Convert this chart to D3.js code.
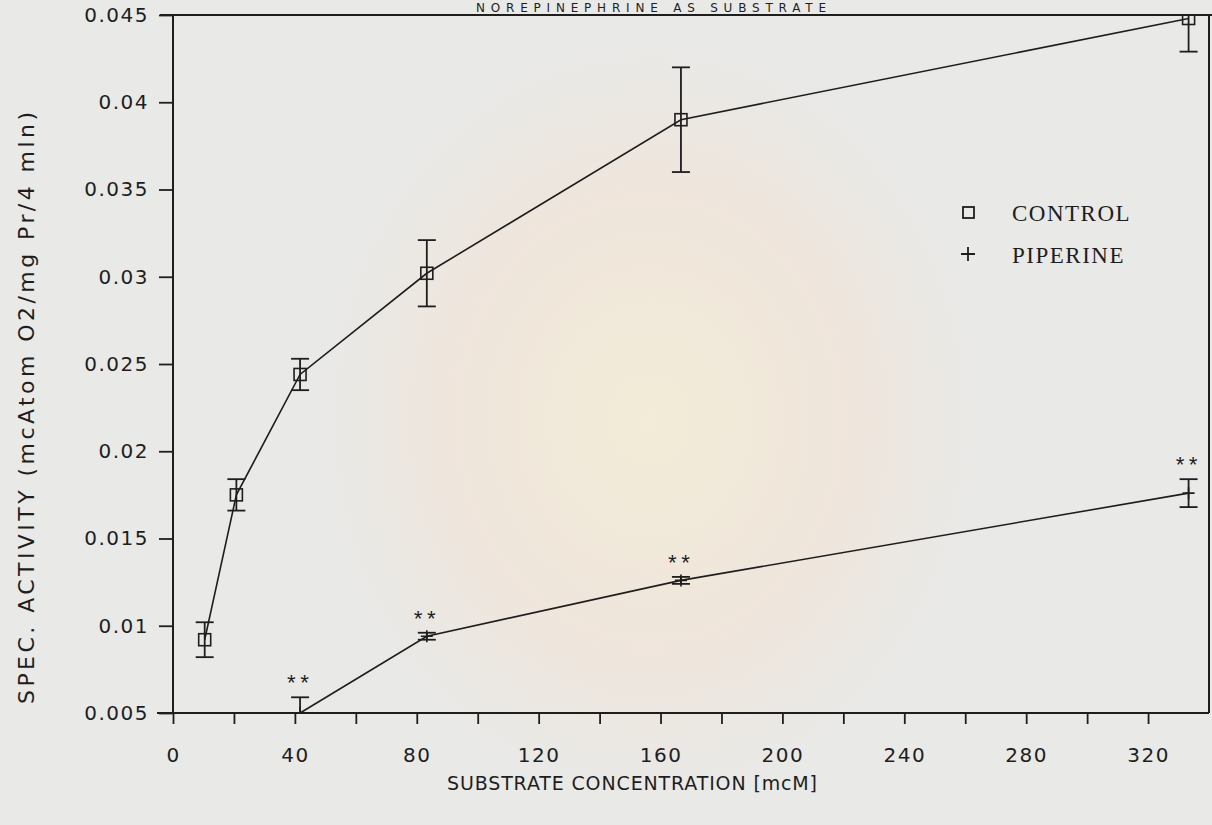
<!DOCTYPE html>
<html>
<head>
<meta charset="utf-8">
<script src="https://cdn.jsdelivr.net/npm/d3@7"></script>
<style>
  body { margin: 0; background: #e9e9e7; }
  svg { display: block; }
</style>
</head>
<body>
<script>
// substrate concentrations (mcM)
const conc = [10.4, 20.8, 41.7, 83.3, 166.7, 333.3];
const controlVals = [0.0092, 0.0175, 0.0244, 0.0302, 0.0390, 0.0448];
const controlErr = [0.0010, 0.0009, 0.0009, 0.0019, 0.0030, 0.0019];
const piperineConc = [41.7, 83.3, 166.7, 333.3];
const piperineVals = [0.0050, 0.0094, 0.0126, 0.0176];
const piperineErr = [0.0009, 0.0002, 0.0002, 0.0008];
const xTicks = d3.range(0, 340, 20);
const xTickLabels = ["0", "40", "80", "120", "160", "200", "240", "280", "320"];
const yTicks = [0.005, 0.01, 0.015, 0.02, 0.025, 0.03, 0.035, 0.04, 0.045];
const yTickLabels = ["0.005", "0.01", "0.015", "0.02", "0.025", "0.03", "0.035", "0.04", "0.045"];

const W = 1212, H = 825;
const ink = "#1e1e1e";
const plotFont = "DejaVu Sans";

const svg = d3.select("body").append("svg")
    .attr("width", W).attr("height", H);

// paper + faint watermark
const defs = svg.append("defs");
const grad = defs.append("radialGradient").attr("id", "wm");
grad.append("stop").attr("offset", "0%").attr("stop-color", "#f4ecd4");
grad.append("stop").attr("offset", "60%").attr("stop-color", "#f0e5da");
grad.append("stop").attr("offset", "100%").attr("stop-color", "#e9e9e7");
svg.append("rect").attr("width", W).attr("height", H).attr("fill", "#e9e9e7");
svg.append("ellipse").attr("cx", 650).attr("cy", 420).attr("rx", 330).attr("ry", 380)
    .attr("fill", "url(#wm)").attr("opacity", 0.85);

const x = d3.scaleLinear().domain([0, 340]).range([173, 1209]);
const y = d3.scaleLinear().domain([0.005, 0.045]).range([713, 15]);

defs.append("clipPath").attr("id", "plot")
    .append("rect").attr("x", x(0)).attr("y", y(0.045))
    .attr("width", x(340) - x(0)).attr("height", y(0.005) - y(0.045) + 1);

// title (sits right on the top edge in the scan)
svg.append("text")
    .attr("x", 651).attr("y", 12)
    .attr("text-anchor", "middle")
    .attr("textLength", 350).attr("lengthAdjust", "spacing")
    .style("font-family", plotFont).style("font-size", "12px").style("fill", ink)
    .text("NOREPINEPHRINE AS SUBSTRATE");

// axes
const xAxis = d3.axisBottom(x).tickValues(xTicks)
    .tickSize(11).tickPadding(24)
    .tickFormat(d => d % 40 === 0 ? xTickLabels[d / 40] : "");
const gx = svg.append("g").attr("transform", `translate(0,${y(0.005)})`).call(xAxis);

const yAxis = d3.axisLeft(y).tickValues(yTicks)
    .tickSize(14).tickPadding(10)
    .tickFormat((d, i) => yTickLabels[i]);
const gy = svg.append("g").attr("transform", `translate(${x(0)},0)`).call(yAxis);

[gx, gy].forEach(g => {
  g.select(".domain").remove();
  g.selectAll(".tick line").attr("stroke", ink).attr("stroke-width", 1.8);
  g.selectAll("text").style("font-family", plotFont).style("font-size", "20px")
    .style("letter-spacing", "1.5px").attr("fill", ink);
});

// frame lines
const frame = svg.append("g").attr("stroke", ink).attr("stroke-width", 2).attr("fill", "none");
frame.append("line").attr("x1", 157).attr("x2", x(340)).attr("y1", y(0.005)).attr("y2", y(0.005));
frame.append("line").attr("x1", x(0)).attr("x2", x(0)).attr("y1", y(0.045)).attr("y2", y(0.005));
frame.append("line").attr("x1", 160).attr("x2", W).attr("y1", y(0.045)).attr("y2", y(0.045));
frame.append("line").attr("x1", x(340)).attr("x2", x(340)).attr("y1", y(0.045)).attr("y2", y(0.005));

// axis titles
svg.append("text")
    .attr("x", 632).attr("y", 790)
    .attr("text-anchor", "middle")
    .attr("textLength", 370).attr("lengthAdjust", "spacing")
    .style("font-family", plotFont).style("font-size", "19px").style("fill", ink)
    .text("SUBSTRATE CONCENTRATION [mcM]");

svg.append("text")
    .attr("transform", "translate(34,408) rotate(-90)")
    .attr("text-anchor", "middle")
    .attr("textLength", 592).attr("lengthAdjust", "spacing")
    .style("font-family", plotFont).style("font-size", "22px").style("fill", ink)
    .text("SPEC. ACTIVITY (mcAtom O2/mg Pr/4 mln)");

const plot = svg.append("g").attr("clip-path", "url(#plot)");
const line = d3.line().x(d => x(d[0])).y(d => y(d[1]));

const control = conc.map((c, i) => [c, controlVals[i], controlErr[i]]);
const piperine = piperineConc.map((c, i) => [c, piperineVals[i], piperineErr[i]]);

[control, piperine].forEach(series => {
  plot.append("path").datum(series).attr("d", line)
      .attr("fill", "none").attr("stroke", ink).attr("stroke-width", 1.6);

  const eb = plot.append("g").attr("stroke", ink).attr("stroke-width", 1.8);
  series.forEach(d => {
    const cx = x(d[0]), top = y(d[1] + d[2]), bot = y(d[1] - d[2]);
    eb.append("line").attr("x1", cx).attr("x2", cx).attr("y1", top).attr("y2", bot);
    eb.append("line").attr("x1", cx - 9).attr("x2", cx + 9).attr("y1", top).attr("y2", top);
    eb.append("line").attr("x1", cx - 9).attr("x2", cx + 9).attr("y1", bot).attr("y2", bot);
  });
});

// control markers: open squares
plot.selectAll("rect.ctl").data(control).enter().append("rect")
    .attr("class", "ctl")
    .attr("x", d => x(d[0]) - 6).attr("y", d => y(d[1]) - 6)
    .attr("width", 12).attr("height", 12)
    .attr("fill", "none").attr("stroke", ink).attr("stroke-width", 1.6);

// piperine markers: plus
plot.selectAll("path.pip").data(piperine).enter().append("path")
    .attr("class", "pip")
    .attr("d", d => `M${x(d[0]) - 6},${y(d[1])}h12M${x(d[0])},${y(d[1]) - 6}v12`)
    .attr("stroke", ink).attr("stroke-width", 1.6);

// significance marks
svg.selectAll("text.sig").data(piperine).enter().append("text")
    .attr("class", "sig")
    .attr("x", d => x(d[0]) - 2)
    .attr("y", d => y(d[1] + d[2]) - 6)
    .attr("text-anchor", "middle")
    .style("font-family", "Liberation Mono").style("font-size", "22px")
    .style("fill", ink)
    .text("**");

// legend
const legend = svg.append("g");
legend.append("rect").attr("x", 963).attr("y", 207).attr("width", 11).attr("height", 11)
    .attr("fill", "none").attr("stroke", ink).attr("stroke-width", 1.8);
legend.append("path").attr("d", "M961,254h14M968,247v14")
    .attr("stroke", ink).attr("stroke-width", 1.8);
legend.selectAll("text").data(["CONTROL", "PIPERINE"]).enter().append("text")
    .attr("x", 1012).attr("y", (d, i) => 221 + i * 42)
    .style("font-family", "Liberation Serif").style("font-size", "23px")
    .style("letter-spacing", "1.5px").style("fill", ink)
    .text(d => d);
</script>
</body>
</html>
